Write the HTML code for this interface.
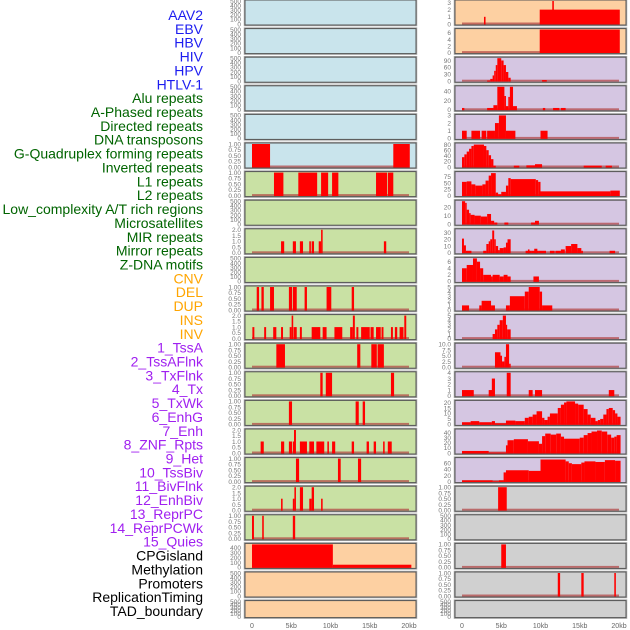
<!DOCTYPE html>
<html><head><meta charset="utf-8">
<style>
html,body{margin:0;padding:0;background:#fff;width:630px;height:630px;overflow:hidden}
svg{display:block;font-family:"Liberation Sans",sans-serif}
</style></head>
<body>
<svg id="chart" width="630" height="630"></svg>
<script>
// ---- data ----
const trackLabels = ["AAV2","EBV","HBV","HIV","HPV","HTLV-1","Alu repeats","A-Phased repeats","Directed repeats","DNA transposons","G-Quadruplex forming repeats","Inverted repeats","L1 repeats","L2 repeats","Low_complexity A/T rich regions","Microsatellites","MIR repeats","Mirror repeats","Z-DNA motifs","CNV","DEL","DUP","INS","INV","1_TssA","2_TssAFlnk","3_TxFlnk","4_Tx","5_TxWk","6_EnhG","7_Enh","8_ZNF_Rpts","9_Het","10_TssBiv","11_BivFlnk","12_EnhBiv","13_ReprPC","14_ReprPCWk","15_Quies","CPGisland","Methylation","Promoters","ReplicationTiming","TAD_boundary"];
const labelGroups = [0,0,0,0,0,0,1,1,1,1,1,1,1,1,1,1,1,1,1,2,2,2,2,2,3,3,3,3,3,3,3,3,3,3,3,3,3,3,3,4,4,4,4,4];
const groupColors = ["#1c1cf0","#006400","#ffa500","#a020f0","#000000"];
const xTickValues = [0,5,10,15,20];
const xTickLabels = ["0","5kb","10kb","15kb","20kb"];
// panel background group per column
const leftBg = [0,0,0,0,0,0,1,1,1,1,1,1,1,1,1,1,1,1,1,2,2,2];
const rightBg = [2,2,3,3,3,3,3,3,3,3,3,3,3,3,3,3,3,4,4,4,4,4];
const bgColors = ["#c9e4ec","#c9e1a4","#fdd0a2","#d5c6e2","#d0d0d0"];
// y maxima
const leftYmax = [500,500,500,500,500,1,1,500,2,500,1,2,1,1,1,2,1,2,1,470,500,500];
const rightYmax = [3.2,7,100,50,3,82,92,27,34,7,5,5,10,4,21,45,75,1,500,1,1,500];
// tick sets
const T500=[0,100,200,300,400,500], T1=[0,0.25,0.5,0.75,1], T2=[0,0.5,1,1.5,2];
const leftTicks = [T500,T500,T500,T500,T500,T1,T1,T500,T2,T500,T1,T2,T1,T1,T1,T2,T1,T2,T1,[0,100,200,300,400],T500,T500];
const rightTicks = [[0,1,2,3],[0,2,4,6],[0,30,60,90],[0,20,40],[0,1,2,3],[0,20,40,60,80],[0,25,50,75],[0,10,20],[0,10,20,30],[0,2,4,6],[0,1,2,3,4,5],[0,1,2,3,4,5],[0,2.5,5,7.5,10],[0,1,2,3,4],[0,5,10,15,20],[0,10,20,30,40],[0,20,40,60],T1,T500,T1,T1,T500];
const tickFmt1=[0,0.25,0.5,0.75,1];
// segments: [startKb, endKb, value]
const leftSegments = [
 [],[],[],[],[],
 [[0,2.3,1],[18,20.1,1]],
 [[2.8,4.0,1],[5.9,8.3,1],[8.8,9.7,1],[10.2,11,1],[15.8,17.2,1],[17.3,18,1]],
 [],
 [[3.7,4.1,1],[5.2,5.6,1],[6.1,6.5,1],[7.3,7.5,1],[7.6,7.9,1],[8.5,8.8,1],[8.8,9.0,2],[16.8,17.1,1]],
 [],
 [[0.6,0.9,1],[1.2,1.5,1],[2.3,2.8,1],[4.7,5.1,1],[5.2,5.7,1],[6.7,7.0,1],[9.5,10.1,1],[12.7,13.0,1]],
 [[0.05,0.3,1],[1.55,1.8,1],[2.7,3.1,1],[3.7,3.95,1],[4.8,5.05,1],[5.05,5.25,2],[5.3,5.7,1],[6.1,6.35,1],[7.6,8.5,1],[8.45,8.7,1],[9.0,9.5,1],[10.5,11.5,1],[12.5,12.85,1],[12.85,13.1,2],[13.3,13.55,1],[13.9,15.0,1],[15.1,15.5,1],[15.8,16.4,1],[16.5,16.75,1],[17.7,17.95,1],[18.2,18.5,1],[18.8,19.3,1],[19.4,19.65,2]],
 [[3.1,4.2,1],[13.4,13.8,1],[15.2,15.9,1],[16.0,16.8,1]],
 [[8.7,9.0,1],[9.4,10.2,1],[17.7,18.1,1]],
 [[4.7,5.1,1],[13.2,13.6,1],[14.1,14.4,1]],
 [[1.1,1.5,1],[3.7,4.1,1],[4.7,5.1,1],[5.2,5.5,1],[5.35,5.6,2],[6.1,7.0,1],[7.3,7.9,1],[8.2,9.2,1],[9.6,9.8,1],[10.2,10.6,1],[12.7,13.0,1],[14.6,14.9,1],[15.5,15.8,1],[16.7,16.9,1],[17.3,17.8,1]],
 [[5.6,6.0,1],[10.95,11.3,1],[13.5,13.9,1]],
 [[3.7,3.9,1],[5.2,5.4,1],[5.4,5.6,2],[6.1,6.5,2],[7.3,7.6,1],[7.6,7.9,2],[8.8,9.0,1]],
 [[0,0.25,1],[1.3,1.5,1],[5.2,5.5,1]],
 [[0,10.3,470],[10.3,20.3,55]],
 [],[]
];
const rightSegments = [
 [[2.8,3.0,1],[9.9,20.1,2],[11.5,11.7,3.2]],
 [[9.9,20.1,7]],
 [[3.2,3.6,3],[3.6,3.9,10],[3.9,4.1,25],[4.1,4.3,45],[4.3,4.5,70],[4.5,5.0,100],[5.0,5.3,90],[5.3,5.6,70],[5.6,5.9,40],[5.9,6.2,15],[10.2,10.8,5]],
 [[0,0.3,4],[3.2,4.0,4],[4.0,4.5,10],[4.5,5.4,50],[5.4,5.6,30],[5.6,5.9,8],[5.9,6.1,28],[6.1,6.5,50],[6.5,7.0,8],[10.3,10.6,4],[11.6,12.4,4],[12.6,13.2,4]],
 [[0,0.6,1],[1.2,2.3,1],[2.5,3.1,1],[3.2,4.2,1],[4.2,4.7,2],[4.7,5.6,3],[5.6,6.8,1],[10.0,10.9,1]],
 [[0,0.3,35],[0.3,0.6,45],[0.6,0.9,55],[0.9,1.2,65],[1.2,1.5,75],[1.5,2.8,80],[2.8,3.1,75],[3.1,3.4,60],[3.4,3.7,42],[3.7,4.0,28],[4.0,4.3,5],[6.6,7.3,5],[8.2,9.3,6],[9.3,10.2,10],[15.5,17.8,5],[18.3,19.1,5]],
 [[0,0.6,55],[0.6,1.2,57],[1.2,1.7,45],[1.7,2.6,40],[2.6,3.0,45],[3.0,3.4,60],[3.4,3.7,80],[3.7,4.3,90],[4.3,4.6,12],[4.6,5.0,5],[5.0,5.6,15],[5.6,5.9,40],[5.9,6.2,70],[6.2,9.4,66],[9.4,9.7,62],[9.7,10.0,55],[10.0,18.9,17],[18.9,20.1,20]],
 [[0,0.4,27],[0.4,0.6,25],[0.6,0.9,17],[0.9,1.1,13],[1.1,1.6,11],[1.6,2.4,10],[2.4,3.2,9],[3.2,3.7,12],[3.7,4.1,4],[4.1,4.5,2],[5.4,5.9,2],[8.8,9.3,2],[9.3,9.8,4]],
 [[0,0.25,21],[0.25,0.5,11],[0.5,1.2,3],[2.7,3.1,3],[3.1,3.4,13],[3.4,3.6,17],[3.6,3.85,20],[3.85,4.1,33],[4.1,4.3,20],[4.3,4.6,10],[4.6,4.8,4],[4.8,5.3,7],[5.3,5.6,8],[5.6,5.8,15],[5.8,6.2,20],[8.1,8.8,3],[8.4,8.6,5],[8.8,9.8,3],[9.2,9.6,6],[9.8,10.7,3],[11.2,11.8,3],[11.9,12.6,3],[12.6,13.1,5],[13.2,13.9,10],[13.9,14.7,13],[14.7,15.2,7],[15.2,15.4,3],[18.8,19.5,3]],
 [[0,0.6,4],[0.6,1.4,5],[1.4,1.9,7],[1.9,2.3,6],[2.3,2.7,4],[2.7,3.7,2],[3.7,3.9,1.5],[3.9,4.8,2],[4.8,5.3,1.5],[5.3,5.8,2],[5.8,6.2,1.5],[9.1,9.8,1.5]],
 [[0,0.9,1],[2.2,2.5,1],[2.5,3.7,2],[3.7,4.2,1],[5.6,6.1,1],[6.1,8.0,3],[8.0,8.5,4],[8.5,9.9,5],[9.9,10.2,4],[10.2,11.5,1]],
 [[3.9,4.2,1],[4.2,4.5,2],[4.5,4.8,3],[4.8,5.2,4],[5.2,5.6,5],[5.6,5.75,3],[5.75,6.2,2]],
 [[4.2,4.9,6.5],[4.9,5.1,5],[5.1,5.4,2.5],[5.4,5.6,4.5],[5.6,6.0,10],[6.0,6.2,1.5]],
 [[0,1.5,1],[3.4,3.9,1],[3.8,4.2,3],[5.7,6.2,4],[8.5,9.0,1],[9.3,10.2,1],[18.7,19.4,1]],
 [[0,1.1,2],[1.1,2.2,3],[2.2,3.8,2],[3.8,4.2,3],[4.2,5.6,1],[5.6,6.8,3.5],[6.8,8.0,3],[8.0,8.5,6],[8.5,9.0,7],[9.0,9.5,9],[9.5,10.2,12],[10.2,10.5,6],[10.5,10.9,4],[10.9,11.2,7],[11.2,12.2,10],[12.2,12.6,15],[12.6,13.0,18],[13.0,13.3,20],[13.3,14.4,21],[14.4,14.8,19],[14.8,15.5,18],[15.5,16.0,14],[16.0,16.4,9],[16.4,17.0,6],[17.0,17.3,3],[17.3,17.6,4],[17.6,18.0,5],[18.0,18.4,9],[18.4,18.7,14],[18.7,19.2,15],[19.2,19.5,13],[19.5,19.8,10],[19.8,20.2,7]],
 [[0,3.4,4],[3.4,5.6,1],[5.6,5.8,15],[5.8,6.6,25],[6.6,8.4,27],[8.4,9.8,23],[9.8,10.2,18],[10.2,10.6,33],[10.6,11.3,38],[11.3,12.0,36],[12.0,12.6,38],[12.6,13.0,32],[13.0,15.0,28],[15.0,15.5,30],[15.5,16.0,35],[16.0,16.5,39],[16.5,17.2,42],[17.2,17.8,44],[17.8,18.5,42],[18.5,19.0,36],[19.0,19.4,30],[19.4,19.7,32],[19.7,20.2,35]],
 [[0,3.9,4],[3.9,4.7,1],[4.7,5.3,4],[5.3,5.6,30],[5.6,8.5,37],[8.5,10.0,35],[10.0,13.2,72],[13.2,13.6,66],[13.6,14.0,60],[14.0,15.2,57],[15.2,15.6,62],[15.6,17.0,66],[17.0,18.2,64],[18.2,19.5,70],[19.5,20.2,68]],
 [[4.6,5.7,1]],
 [],
 [[5.0,5.6,1]],
 [[12.2,12.5,1],[15.2,15.5,1],[19.4,19.6,1]],
 []
];

// ---- drawing ----
const NS = "http://www.w3.org/2000/svg";
const svg = document.getElementById("chart");
function mk(tag, attrs, parent){
  const e = document.createElementNS(NS, tag);
  for (const k in attrs) e.setAttribute(k, attrs[k]);
  (parent||svg).appendChild(e);
  return e;
}
function fmtTick(v, ticks){
  const mx = ticks[ticks.length-1];
  if (mx===1) return v.toFixed(2);
  if (mx===2) return v.toFixed(1);
  if (ticks.some(t=>t%1!==0)) return v.toFixed(1);
  return String(v);
}
// labels
trackLabels.forEach((t,i)=>{
  const e = mk("text",{x:203,y:15+13.86*i+5,"text-anchor":"end","font-size":"14",fill:groupColors[labelGroups[i]]});
  e.textContent = t;
  
  
});
function drawColumn(px0, bgs, ymaxs, ticks, segs, colName){
  const panelL = px0, panelR = px0+171;
  const xs = kb => px0 + 7 + kb*7.85;
  for (let i=0;i<22;i++){
    const top = i*28.6, h = (i===21)?17:25;
    const g = mk("g",{});
    
    
    mk("rect",{x:panelL-0.5,y:top-0.5,width:172,height:h+1,fill:"none",stroke:"#aaa","stroke-width":1.5},g);
    mk("rect",{x:panelL,y:top,width:171,height:h,fill:bgColors[bgs[i]]},g);
    const bot = top+h-1, ytop = top+1;
    const ys = v => bot - v/ymaxs[i]*(bot-ytop);
    if (segs[i].length){
      mk("rect",{x:xs(0),y:bot-1.5,width:xs(20)-xs(0),height:2,fill:"#b04040",opacity:0.7},g);
    }
    segs[i].forEach(s=>{
      const y = Math.max(ytop-1, ys(s[2]));
      const r = mk("rect",{x:xs(s[0]),y:y,width:Math.max(1.2,xs(s[1])-xs(s[0])),height:bot+0.5-y,fill:"#ff0000"},g);
      
      
    });
    mk("rect",{x:panelL,y:top,width:171,height:h,fill:"none",stroke:"#555","stroke-width":1},g);
    ticks[i].forEach(v=>{
      const ty = ys(v);
      const e = mk("text",{x:panelL-4,y:ty+2.3,"text-anchor":"end","font-size":"6.5",fill:"#777"},g);
      e.textContent = fmtTick(v, ticks[i]);
    });
  }
  xTickValues.forEach((v,k)=>{
    const e = mk("text",{x:xs(v),y:628,"text-anchor":"middle","font-size":"7",fill:"#666"});
    e.textContent = xTickLabels[k];
    
    
  });
}
drawColumn(245, leftBg, leftYmax, leftTicks, leftSegments, "left");
drawColumn(455, rightBg, rightYmax, rightTicks, rightSegments, "right");
</script>
</body></html>
